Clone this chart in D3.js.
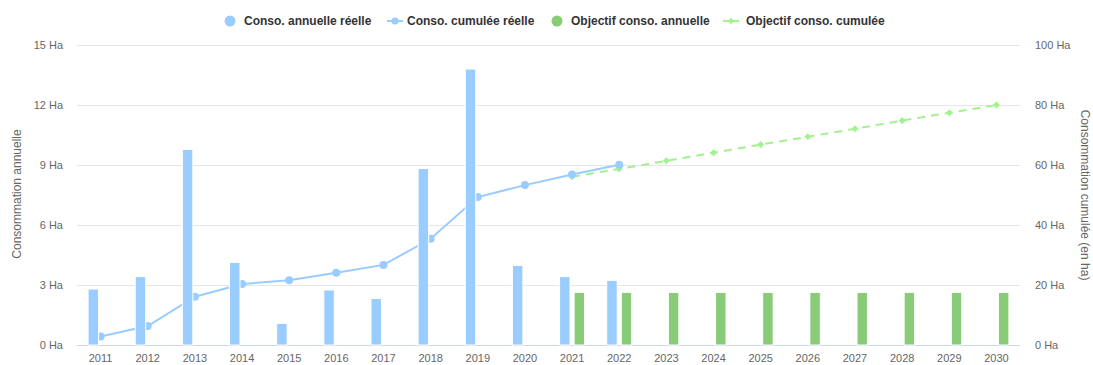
<!DOCTYPE html>
<html>
<head>
<meta charset="utf-8">
<script src="https://cdn.jsdelivr.net/npm/d3@7"></script>
<style>
  html, body { margin: 0; padding: 0; background: #fff; }
  svg { display: block; font-family: "Liberation Sans", Arial, sans-serif; }
</style>
</head>
<body>
<svg id="chart" width="1093" height="365"></svg>
<script>
// Years on the category axis
const years = ["2011","2012","2013","2014","2015","2016","2017","2018","2019","2020",
               "2021","2022","2023","2024","2025","2026","2027","2028","2029","2030"];

// Actual consumption (ha), 2011–2022
const realYears = ["2011","2012","2013","2014","2015","2016","2017","2018","2019","2020","2021","2022"];
const annualReal = [2.8, 3.42, 9.78, 4.13, 1.08, 2.75, 2.33, 8.82, 13.8, 3.98, 3.42, 3.23];
const cumulReal  = [2.8, 6.3, 16.1, 20.3, 21.6, 24.1, 26.7, 35.4, 49.3, 53.3, 56.8, 60.1];

// Objective (ha), 2021–2030
const objYears = ["2021","2022","2023","2024","2025","2026","2027","2028","2029","2030"];
const annualObj = [2.63, 2.63, 2.63, 2.63, 2.63, 2.63, 2.63, 2.63, 2.63, 2.63];
const cumulObj  = [56.1, 58.7, 61.4, 64.1, 66.8, 69.4, 72.1, 74.8, 77.4, 80.0];

// Axis ticks
const leftTicks  = [0, 3, 6, 9, 12, 15];
const rightTicks = [0, 20, 40, 60, 80, 100];

const seriesNames = ["Conso. annuelle réelle", "Conso. cumulée réelle", "Objectif conso. annuelle", "Objectif conso. cumulée"];

const colors = {
  realBar: "#99ccff",
  realLine: "#99ccff",
  objBar: "#88cc77",
  objLine: "#a3f28f"
};

const svg = d3.select("#chart");
const plot = { left: 77, right: 1020, top: 45, bottom: 345 };

const x = d3.scaleBand().domain(years).range([plot.left, plot.right]).padding(0);
const bw = x.bandwidth();
const xSub = d3.scaleBand().domain(["real", "obj"])
  .range([bw * 0.235, bw * 0.765]).paddingInner(0.28);

const yL = d3.scaleLinear().domain([0, 15]).range([plot.bottom, plot.top]);
const yR = d3.scaleLinear().domain([0, 100]).range([plot.bottom, plot.top]);

// Gridlines
svg.append("g").selectAll("line").data(leftTicks).join("line")
  .attr("x1", plot.left).attr("x2", plot.right)
  .attr("y1", d => Math.round(yL(d)) + 0.5).attr("y2", d => Math.round(yL(d)) + 0.5)
  .attr("stroke", "#e6e6e6").attr("stroke-width", 1);

// Bottom axis line
svg.append("line")
  .attr("x1", plot.left).attr("x2", plot.right)
  .attr("y1", plot.bottom + 0.5).attr("y2", plot.bottom + 0.5)
  .attr("stroke", "#ccd6eb");

// Left axis
const leftAxis = d3.axisLeft(yL).tickValues(leftTicks).tickSize(0).tickPadding(14)
  .tickFormat(d => d + " Ha");
const gL = svg.append("g").attr("transform", `translate(${plot.left},0)`).call(leftAxis);
gL.select(".domain").remove();
gL.selectAll("text").attr("fill", "#666666").style("font-size", "11px")
  .style("font-family", "'Liberation Sans', Arial, sans-serif");

// Right axis
const rightAxis = d3.axisRight(yR).tickValues(rightTicks).tickSize(0).tickPadding(15)
  .tickFormat(d => d + " Ha");
const gR = svg.append("g").attr("transform", `translate(${plot.right},0)`).call(rightAxis);
gR.select(".domain").remove();
gR.selectAll("text").attr("fill", "#666666").style("font-size", "11px")
  .style("font-family", "'Liberation Sans', Arial, sans-serif");

// Bottom axis labels
const bottomAxis = d3.axisBottom(x).tickSize(0).tickPadding(9);
const gB = svg.append("g").attr("transform", `translate(0,${plot.bottom})`).call(bottomAxis);
gB.select(".domain").remove();
gB.selectAll("text").attr("fill", "#666666").style("font-size", "11px")
  .style("font-family", "'Liberation Sans', Arial, sans-serif");

// Axis titles
svg.append("text")
  .attr("transform", `translate(21,${(plot.top + plot.bottom) / 2 - 1}) rotate(-90)`)
  .attr("text-anchor", "middle").attr("fill", "#666666").style("font-size", "12px")
  .text("Consommation annuelle");
svg.append("text")
  .attr("transform", `translate(1081,${(plot.top + plot.bottom) / 2}) rotate(90)`)
  .attr("text-anchor", "middle").attr("fill", "#666666").style("font-size", "12px")
  .text("Consommation cumulée (en ha)");

const cx = yr => x(yr) + bw / 2;

// Objective cumulative line (dashed)
const objPts = objYears.map((yr, i) => [cx(yr), yR(cumulObj[i])]);
svg.append("path")
  .attr("d", d3.line()(objPts))
  .attr("fill", "none").attr("stroke", colors.objLine).attr("stroke-width", 2)
  .attr("stroke-dasharray", "8,6");
const diamond = d3.symbol().type(d3.symbolDiamond2).size(32);
svg.append("g").selectAll("path").data(objPts).join("path")
  .attr("transform", d => `translate(${d[0]},${d[1]})`)
  .attr("d", diamond).attr("fill", colors.objLine);

// Actual cumulative line
const realPts = realYears.map((yr, i) => [cx(yr), yR(cumulReal[i])]);
svg.append("path")
  .attr("d", d3.line()(realPts))
  .attr("fill", "none").attr("stroke", colors.realLine).attr("stroke-width", 2);
svg.append("g").selectAll("circle").data(realPts).join("circle")
  .attr("cx", d => d[0]).attr("cy", d => d[1]).attr("r", 4)
  .attr("fill", colors.realLine);

// Annual bars (drawn over the lines)
svg.append("g").selectAll("rect").data(realYears.map((yr, i) => ({ yr, v: annualReal[i] }))).join("rect")
  .attr("x", d => x(d.yr) + xSub("real"))
  .attr("width", xSub.bandwidth())
  .attr("y", d => yL(d.v))
  .attr("height", d => yL(0) - yL(d.v))
  .attr("fill", colors.realBar).attr("stroke", "#ffffff").attr("stroke-width", 1);

svg.append("g").selectAll("rect").data(objYears.map((yr, i) => ({ yr, v: annualObj[i] }))).join("rect")
  .attr("x", d => x(d.yr) + xSub("obj"))
  .attr("width", xSub.bandwidth())
  .attr("y", d => yL(d.v))
  .attr("height", d => yL(0) - yL(d.v))
  .attr("fill", colors.objBar).attr("stroke", "#ffffff").attr("stroke-width", 1);

// Legend
const legendY = 21;
const legend = svg.append("g");
const legendItems = [
  { kind: "dot",  color: colors.realBar,  sym: 230, text: 244 },
  { kind: "line", color: colors.realLine, sym: 395, text: 407, marker: "circle" },
  { kind: "dot",  color: colors.objBar,   sym: 557, text: 571 },
  { kind: "line", color: colors.objLine,  sym: 731, text: 746, marker: "diamond" }
];
legendItems.forEach((it, i) => {
  if (it.kind === "dot") {
    legend.append("circle").attr("cx", it.sym).attr("cy", legendY).attr("r", 5.5).attr("fill", it.color);
  } else {
    legend.append("line").attr("x1", it.sym - 8).attr("x2", it.sym + 8)
      .attr("y1", legendY).attr("y2", legendY).attr("stroke", it.color).attr("stroke-width", 2);
    if (it.marker === "circle") {
      legend.append("circle").attr("cx", it.sym).attr("cy", legendY).attr("r", 3.5).attr("fill", it.color);
    } else {
      legend.append("path").attr("transform", `translate(${it.sym},${legendY})`)
        .attr("d", d3.symbol().type(d3.symbolDiamond2).size(26)).attr("fill", it.color);
    }
  }
  legend.append("text").attr("x", it.text).attr("y", legendY).attr("dy", "0.35em")
    .attr("fill", "#333333").style("font-size", "12px").style("font-weight", "bold")
    .text(seriesNames[i]);
});
</script>
</body>
</html>
